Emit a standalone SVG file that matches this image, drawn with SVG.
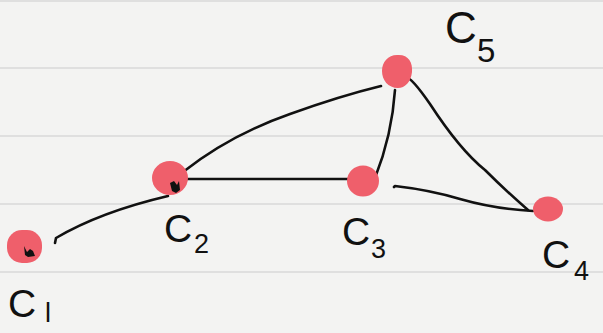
<svg xmlns="http://www.w3.org/2000/svg" width="603" height="333" viewBox="0 0 603 333">
<style>
.paper{fill:#f3f3f2}
.rule{stroke:#d9d9d9;stroke-width:1.5}
.node{fill:#ef5f6b}
.ink{fill:none;stroke:#111;stroke-width:2.6;stroke-linecap:round;stroke-linejoin:round}
.mark{fill:#111}
.lbl{font-family:"Liberation Sans",Arial,sans-serif;fill:#111;font-weight:300}
.c{font-size:39px}
.s{font-size:27px}
</style>
<rect class="paper" x="0" y="0" width="603" height="333"/>
<g id="rules">
<line class="rule" x1="0" y1="1" x2="603" y2="1"/>
<line class="rule" x1="0" y1="68" x2="603" y2="68"/>
<line class="rule" x1="0" y1="136" x2="603" y2="136"/>
<line class="rule" x1="0" y1="204" x2="603" y2="204"/>
<line class="rule" x1="0" y1="272" x2="603" y2="272"/>
</g>
<g id="connectors">
<path class="ink" d="M55,243 L56,238 Q100,212 168,196"/>
<path class="ink" d="M186,179 L358,179"/>
<path class="ink" d="M180,176 L183,172 Q230,135 290,114 Q340,96 381,86"/>
<path class="ink" d="M375,178 Q392,135 395,90"/>
<path class="ink" d="M402,80 L406,77 Q412,78 430,104 Q460,150 485,170 Q505,190 528,210"/>
<path class="ink" d="M394,187 L395,186 Q430,190 460,199 Q495,209 533,211"/>
</g>
<g id="C1">
<rect class="node" x="7" y="230" width="35" height="33" rx="15"/>
<path class="mark" d="M24,246 L27,252 L30,249 L33,251 L35,256 L28,257 L25,255 Z"/>
<text class="lbl"><tspan class="c" x="8" y="317">C</tspan><tspan class="s" x="45" y="322">l</tspan></text>
</g>
<g id="C2">
<ellipse class="node" cx="170" cy="178" rx="18" ry="17"/>
<path class="mark" d="M170,183 L174,181 L177,185 L179,181 L180,190 L176,193 L172,191 Z"/>
<text class="lbl"><tspan class="c" x="164" y="242">C</tspan><tspan class="s" x="194" y="253">2</tspan></text>
</g>
<g id="C3">
<ellipse class="node" cx="363" cy="181" rx="16" ry="15.5"/>
<text class="lbl"><tspan class="c" x="342" y="245">C</tspan><tspan class="s" x="371" y="258">3</tspan></text>
</g>
<g id="C4">
<ellipse class="node" cx="548" cy="209" rx="15" ry="12.5"/>
<text class="lbl"><tspan class="c" x="542" y="268">C</tspan><tspan class="s" x="574" y="280">4</tspan></text>
</g>
<g id="C5">
<path class="node" d="M397,55 C408,54 413,62 412,72 C411,82 405,88 398,88 C388,88 382,80 382,71 C382,62 388,55 397,55 Z"/>
<text class="lbl"><tspan class="c" x="445" y="43" style="font-size:44px">C</tspan><tspan class="s" x="477" y="62" style="font-size:33px">5</tspan></text>
</g>
</svg>
